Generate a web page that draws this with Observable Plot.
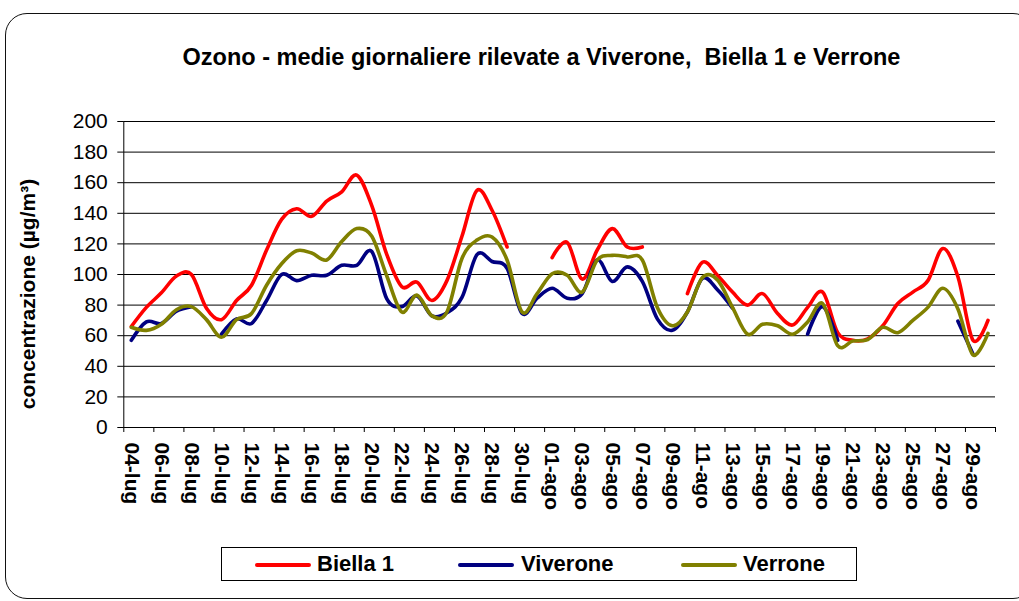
<!DOCTYPE html>
<html>
<head>
<meta charset="utf-8">
<script src="https://cdn.jsdelivr.net/npm/d3@7"></script>
<script src="https://cdn.jsdelivr.net/npm/@observablehq/plot@0.6"></script>
<style>
  html, body { margin: 0; padding: 0; background: #fff; }
  #root { position: relative; width: 1019px; height: 601px; overflow: hidden; font-family: "Liberation Sans", Arial, sans-serif; }
  #frame { position: absolute; left: 5px; top: 13px; width: 1030px; height: 586px; border: 1.5px solid #111; border-radius: 22px; box-sizing: border-box; }
  #chart { position: absolute; left: 0; top: 0; }
  #title { position: absolute; left: 0; width: 1083px; top: 46px; text-align: center; font-weight: bold; font-size: 23.5px; line-height: 1; white-space: pre; color: #000; }
  #ylabel { position: absolute; left: 27px; top: 294px; transform: translate(-50%, -50%) rotate(-90deg); font-weight: bold; font-size: 21px; line-height: 1; white-space: nowrap; color: #000; }
  #legend { position: absolute; left: 221px; top: 547px; width: 636px; height: 34px; border: 1px solid #000; box-sizing: border-box; background: #fff; }
  .sw { position: absolute; top: 15px; height: 4px; width: 56px; border-radius: 2px; }
  .lt { position: absolute; top: 5px; font-weight: bold; font-size: 22px; line-height: 1; white-space: nowrap; color: #000; }
  svg text { font-family: "Liberation Sans", Arial, sans-serif; }
  g[aria-label="x-axis tick label"] text { font-weight: bold; }
</style>
</head>
<body>
<div id="root">
  <div id="frame"></div>
  <div id="chart"></div>
  <div id="title">Ozono - medie giornaliere rilevate a Viverone,  Biella 1 e Verrone</div>
  <div id="ylabel">concentrazione (µg/m³)</div>
  <div id="legend"></div>
</div>
<script>
// Categories (days)
const categories = [
  "04-lug","05-lug","06-lug","07-lug","08-lug","09-lug","10-lug","11-lug","12-lug","13-lug",
  "14-lug","15-lug","16-lug","17-lug","18-lug","19-lug","20-lug","21-lug","22-lug","23-lug",
  "24-lug","25-lug","26-lug","27-lug","28-lug","29-lug","30-lug","31-lug",
  "01-ago","02-ago","03-ago","04-ago","05-ago","06-ago","07-ago","08-ago","09-ago","10-ago",
  "11-ago","12-ago","13-ago","14-ago","15-ago","16-ago","17-ago","18-ago","19-ago","20-ago",
  "21-ago","22-ago","23-ago","24-ago","25-ago","26-ago","27-ago","28-ago","29-ago","30-ago"
];

// Series values (µg/m³), null = missing
const biella1 = [
  66, 78.5, 88, 99, 100, 78, 70.5, 83, 93, 116,
  136, 143, 138, 148, 154, 165, 145, 113, 92, 95,
  83, 96, 125, 155, 142, 118, null, null,
  111, 121, 97, 116, 130, 118, 118, null, null, 87.5,
  108, 99.5, 88.5, 80, 87.5, 74.5, 67, 78.5, 88.5, 62,
  57, 58, 66.5, 81, 88.5, 96, 117, 98.5, 57, 70
];
const viverone = [
  57, 69, 68, 76, 79, null, 61, 71, 68, 83,
  100, 96, 99.5, 99.5, 106, 106, 115, 84, 79, 86,
  73, 75, 85, 113, 108.5, 104, 74.5, 84.5,
  91, 84.5, 87.5, 109.5, 95.5, 105, 95.5, 71, 63.5, 75.5,
  97.5, 90, 78, null, null, null, null, 61, 79, 57,
  null, null, null, null, null, null, null, 69.5, 48, null
];
const verrone = [
  65.5, 63.5, 67.5, 77, 79, 70.5, 59, 70.5, 74.5, 93,
  107, 115.5, 114, 109.5, 121.5, 130, 125, 99, 75.5, 86.5,
  73, 75.5, 110.5, 122.5, 124.5, 109.5, 75.5, 87.5,
  100.5, 99.5, 88.5, 109.5, 112.5, 111.5, 109.5, 78.5, 66.5, 75.5,
  98, 96.5, 78.5, 61, 67.5, 66.5, 61, 69, 81, 53.5,
  56.5, 57.5, 65.5, 62, 70, 78.5, 91, 77.5, 47.5, 61.5
];

const seriesNames = ["Biella 1", "Viverone", "Verrone"];
const seriesColors = ["#FF0000", "#000080", "#808000"];
const seriesValues = [biella1, viverone, verrone];

const yTicks = [0, 20, 40, 60, 80, 100, 120, 140, 160, 180, 200];
const tickLabelIndex = categories.map((_, i) => i).filter(i => i % 2 === 0);
const tickBoundaries = d3.range(-0.5, categories.length, 2);

const rows = seriesValues.map((vals, s) =>
  vals.map((v, i) => ({ i, v, s: seriesNames[s] }))
);

const chart = Plot.plot({
  width: 1019,
  height: 601,
  marginLeft: 123.3,
  marginRight: 24,
  marginTop: 121,
  marginBottom: 174,
  style: { fontFamily: '"Liberation Sans", Arial, sans-serif', background: "transparent", overflow: "visible" },
  x: { type: "linear", domain: [-0.5, categories.length - 0.5] },
  y: { domain: [0, 200] },
  marks: [
    Plot.gridY({ ticks: yTicks, stroke: "#000", strokeOpacity: 1, strokeWidth: 1 }),
    Plot.ruleY([0], { stroke: "#000" }),
    Plot.ruleX([-0.5], { stroke: "#000" }),
    Plot.axisY({ ticks: yTicks, tickSize: 6, tickPadding: 10, fontSize: 21, label: null, stroke: "#000", color: "#000" }),
    Plot.axisX({ ticks: tickBoundaries, tickSize: 5, tickFormat: () => "", label: null, stroke: "#000" }),
    Plot.axisX({ ticks: tickLabelIndex, tickSize: 0, tickPadding: 15, tickRotate: 90, tickFormat: i => categories[i], fontSize: 21, fontWeight: "bold", label: null }),
    ...rows.map((r, s) => Plot.line(r, {
      x: "i", y: "v", stroke: seriesColors[s], strokeWidth: 3.6, curve: "cardinal", tension: 0, strokeLinecap: "round", strokeLinejoin: "round"
    }))
  ]
});
document.getElementById("chart").appendChild(chart);

// Legend
const legend = document.getElementById("legend");
const swX = [33, 236, 459];
const txX = [95, 299, 521];
seriesNames.forEach((name, s) => {
  const sw = document.createElement("div");
  sw.className = "sw";
  sw.style.left = swX[s] + "px";
  sw.style.background = seriesColors[s];
  legend.appendChild(sw);
  const t = document.createElement("div");
  t.className = "lt";
  t.style.left = txX[s] + "px";
  t.textContent = name;
  legend.appendChild(t);
});
</script>
</body>
</html>
